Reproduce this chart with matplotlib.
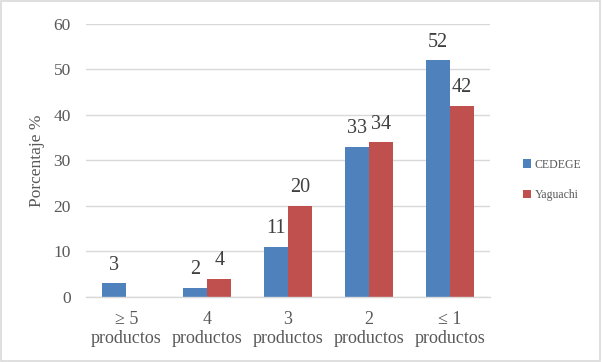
import matplotlib
matplotlib.use("Agg")
import matplotlib.pyplot as plt
import numpy as np
from matplotlib.patches import Rectangle

# ── datos ─────────────────────────────────────────────
categorias = ["≥ 5\nproductos", "4\nproductos", "3\nproductos", "2\nproductos", "≤ 1\nproductos"]
cedege = [3, 2, 11, 33, 52]
yaguachi = [0, 4, 20, 34, 42]
y_ticks = [0, 10, 20, 30, 40, 50, 60]

AZUL = "#4F81BD"
ROJO = "#C0504D"
GRIS = "#595959"

plt.rcParams["font.family"] = ["Liberation Serif", "DejaVu Serif"]

fig = plt.figure(figsize=(6.02, 3.62), dpi=100)
ax = fig.add_axes([86 / 602, 1 - 296.7 / 362, 404 / 602, (296.7 - 24) / 362])

x = np.arange(len(categorias))
w = 0.297
b1 = ax.bar(x - w / 2, cedege, width=w, color=AZUL, label="CEDEGE")
b2 = ax.bar(x + w / 2, yaguachi, width=w, color=ROJO, label="Yaguachi")

# etiquetas de datos (sin etiqueta para valores cero)
for bars, vals in ((b1, cedege), (b2, yaguachi)):
    for rect, v in zip(bars, vals):
        if v == 0:
            continue
        ax.annotate(f"{v}", (rect.get_x() + rect.get_width() / 2, v),
                    xytext=(0, 6), textcoords="offset points",
                    ha="center", va="bottom", fontsize=14.5, color="#404040")

ax.set_xlim(-0.5, len(categorias) - 0.5)
ax.set_ylim(0, 60)
ax.set_yticks(y_ticks)
ax.set_xticks(x)
ax.set_xticklabels(categorias, fontsize=13, color=GRIS, linespacing=1.2)
ax.tick_params(axis="y", labelsize=12.5, labelcolor=GRIS, length=0, pad=11)
ax.tick_params(axis="x", length=0, pad=10)
ax.set_ylabel("Porcentaje %", fontsize=12.5, color=GRIS, labelpad=6)
ax.yaxis.grid(True, color="#D9D9D9", linewidth=1)
ax.set_axisbelow(True)
for s in ("top", "right", "left"):
    ax.spines[s].set_visible(False)
ax.spines["bottom"].set_color("#D9D9D9")
ax.spines["bottom"].set_linewidth(1)

fig.legend(handles=[b1, b2], loc="center left", bbox_to_anchor=(512 / 602, 1 - 180 / 362),
           frameon=False, fontsize=8.5, handlelength=0.7, handleheight=0.7,
           handletextpad=0.3, labelspacing=1.6, labelcolor=GRIS)

# borde del gráfico
fig.patches.append(Rectangle((0.002, 0.003), 0.995, 0.993, transform=fig.transFigure,
                             fill=False, edgecolor="#D9D9D9", linewidth=1.2))

fig.savefig("out.png", dpi=100)
